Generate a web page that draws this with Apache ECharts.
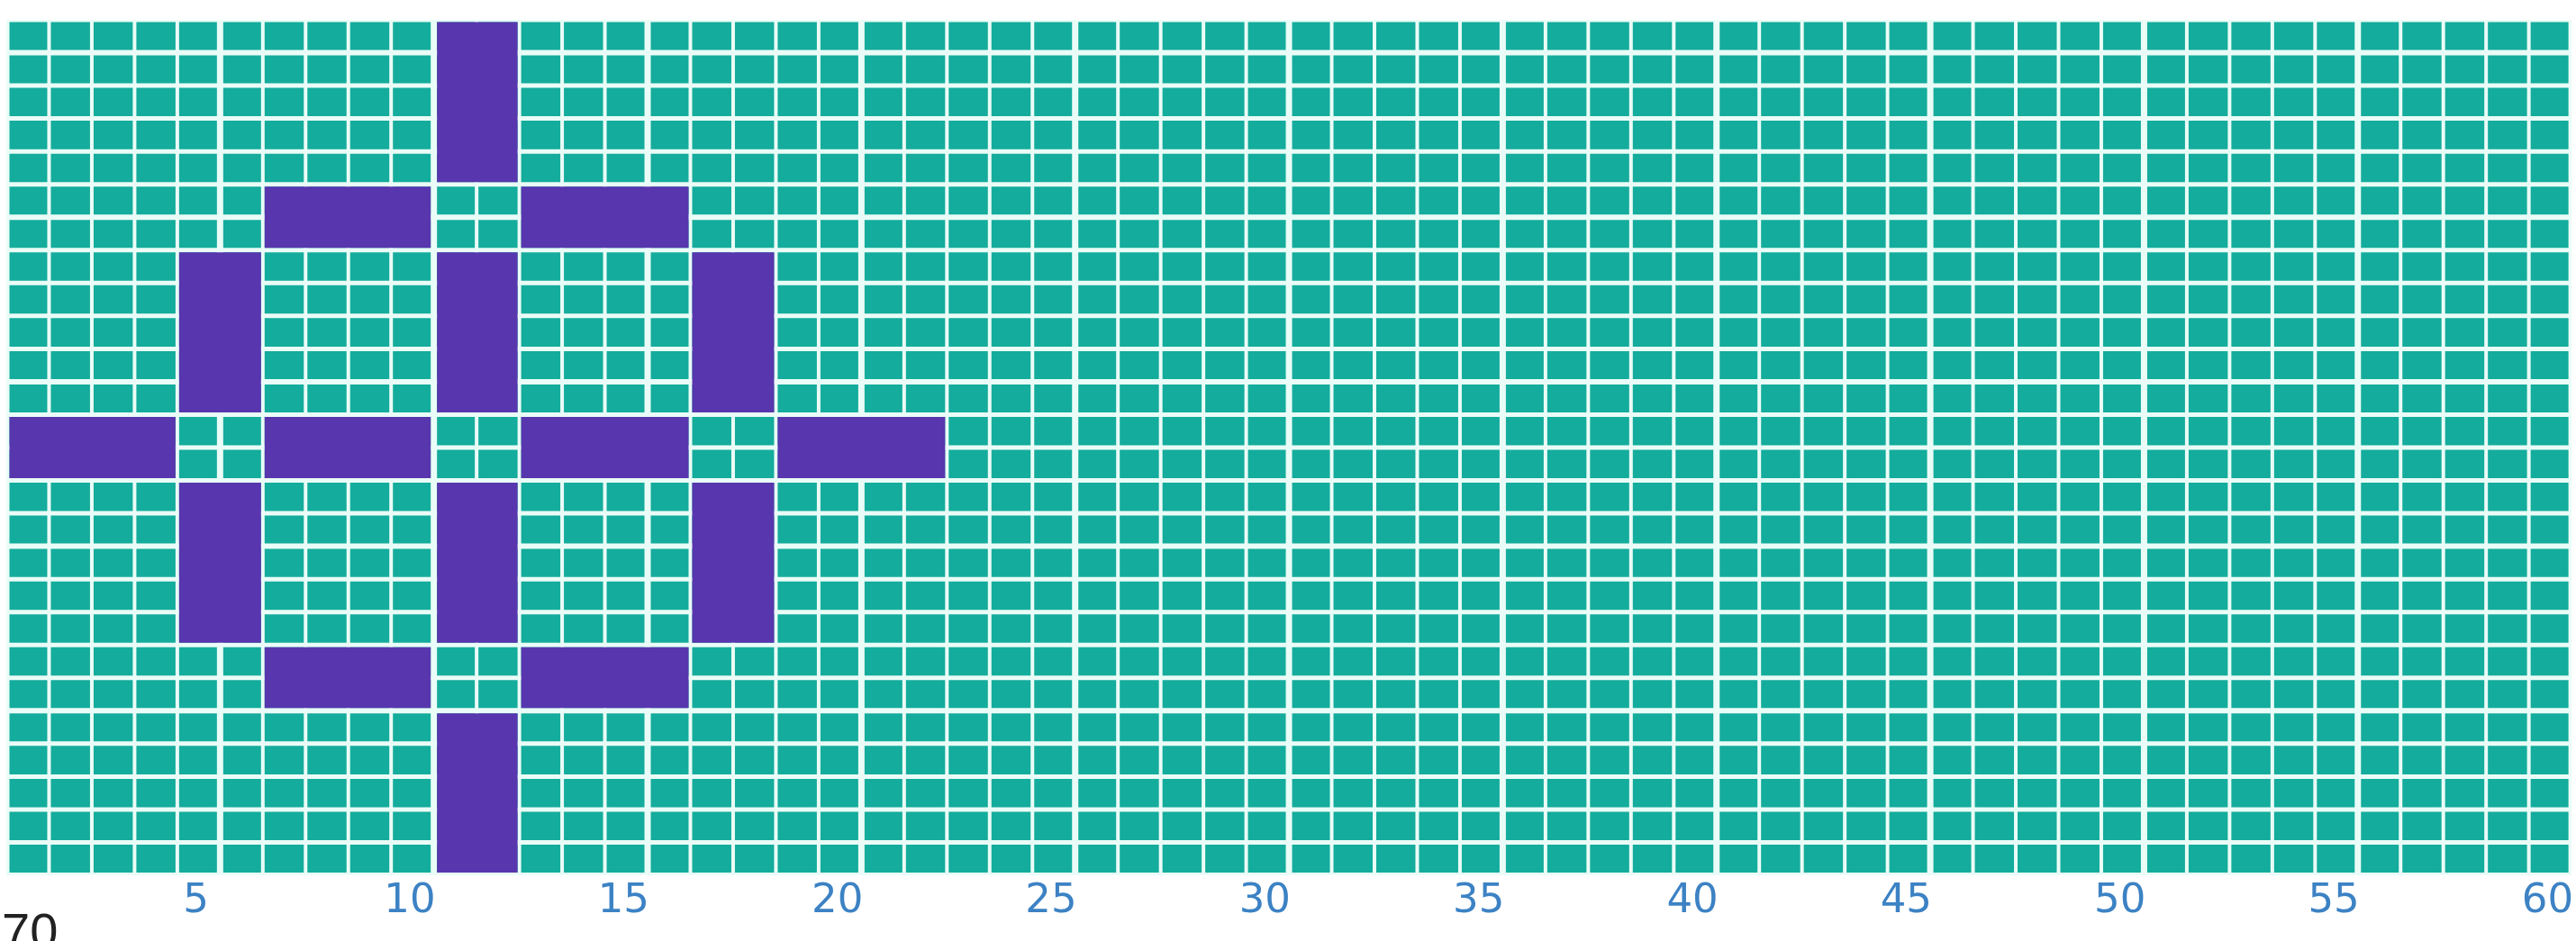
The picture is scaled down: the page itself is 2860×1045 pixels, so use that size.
<!DOCTYPE html>
<html>
<head>
<meta charset="utf-8">
<script src="https://cdn.jsdelivr.net/npm/echarts@6/dist/echarts.min.js"></script>
<style>
  html, body { margin: 0; padding: 0; background: #ffffff; }
  #chart { width: 2860px; height: 1045px; }
</style>
</head>
<body>
<div id="chart"></div>
<script>
// Column categories (1..60) and row indices (1..26)
const columns = ['1','2','3','4','5','6','7','8','9','10','11','12','13','14','15','16','17','18','19','20',
  '21','22','23','24','25','26','27','28','29','30','31','32','33','34','35','36','37','38','39','40',
  '41','42','43','44','45','46','47','48','49','50','51','52','53','54','55','56','57','58','59','60'];
const rowsList = [1,2,3,4,5,6,7,8,9,10,11,12,13,14,15,16,17,18,19,20,21,22,23,24,25,26];
const tickLabels = [5,10,15,20,25,30,35,40,45,50,55,60];
const pageNumber = '70';

// Purple blocks: [start column, start row, width in columns, height in rows]
const purpleBlocks = [
  [11, 1, 2, 5],
  [7, 6, 4, 2], [13, 6, 4, 2],
  [5, 8, 2, 5], [11, 8, 2, 5], [17, 8, 2, 5],
  [1, 13, 4, 2], [7, 13, 4, 2], [13, 13, 4, 2], [19, 13, 4, 2],
  [5, 15, 2, 5], [11, 15, 2, 5], [17, 15, 2, 5],
  [7, 20, 4, 2], [13, 20, 4, 2],
  [11, 22, 2, 5]
];

// All grid cells (teal background cells): [column index, row index]
const tealCells = [];
columns.forEach((c, ci) => rowsList.forEach((r) => tealCells.push([ci, r - 1])));
const purpleData = purpleBlocks.map(b => [b[0] - 1, b[1] - 1, b[2], b[3]]);

const TEAL = '#14ac9c';
const PURPLE = '#5836ae';
const VT = 4, VK = 7;   // vertical gaps thin / thick
const HT = 5, HK = 6;   // horizontal gaps thin / thick

function vGap(boundary) { return boundary % 5 === 0 ? VK : VT; }
function hGap(boundary) { return boundary % 5 === 1 ? HK : HT; }

function rectFor(api, c0, r0, w, h) {
  const band = api.size([1, 0])[0];
  const p0 = api.coord([c0, r0]);
  const p1 = api.coord([c0 + w - 1, r0 + h]);
  const x0 = p0[0] - band / 2 + vGap(c0) / 2;
  const x1 = p1[0] + band / 2 - vGap(c0 + w) / 2;
  const y0 = p0[1] + hGap(r0) / 2;
  const y1 = p1[1] - hGap(r0 + h) / 2;
  return { x: x0, y: y0, width: x1 - x0, height: y1 - y0 };
}

const chart = echarts.init(document.getElementById('chart'), null, { renderer: 'canvas' });
chart.setOption({
  animation: false,
  backgroundColor: '#ffffff',
  grid: { left: 7, right: 3, top: 22, bottom: 73, show: true, backgroundColor: '#eafcf7', borderWidth: 0 },
  xAxis: {
    type: 'category', data: columns, boundaryGap: true,
    axisLine: { show: false }, axisTick: { show: false }, splitLine: { show: false },
    axisLabel: {
      interval: (i, v) => tickLabels.indexOf(Number(v)) >= 0,
      color: '#3c82c4', fontSize: 45, fontFamily: 'DejaVu Sans', margin: 7,
      padding: [0, 6, 0, 0]
    }
  },
  yAxis: { type: 'value', min: 0, max: 26, inverse: true, show: false },
  graphic: [{
    type: 'text', left: 2, top: 1010,
    style: { text: pageNumber, fontSize: 56, fill: '#222222', fontFamily: 'Liberation Sans' }
  }],
  series: [
    {
      type: 'custom', data: tealCells, encode: { x: 0, y: 1 },
      renderItem: (params, api) => ({
        type: 'rect', shape: rectFor(api, api.value(0), api.value(1), 1, 1),
        style: { fill: TEAL }
      })
    },
    {
      type: 'custom', data: purpleData, encode: { x: 0, y: 1 },
      renderItem: (params, api) => ({
        type: 'rect', shape: rectFor(api, api.value(0), api.value(1), api.value(2), api.value(3)),
        style: { fill: PURPLE }
      })
    }
  ]
});
</script>
</body>
</html>
